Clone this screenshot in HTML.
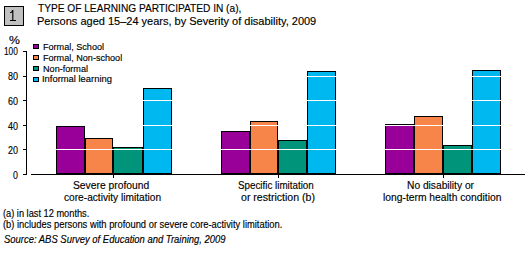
<!DOCTYPE html>
<html><head><meta charset="utf-8"><title>chart</title>
<style>
html,body{margin:0;padding:0;background:#fff;}
body{width:529px;height:253px;position:relative;overflow:hidden;font-family:"Liberation Sans",sans-serif;color:#000;}
.t{position:absolute;white-space:nowrap;line-height:1;transform-origin:0 0;-webkit-text-stroke:0.15px #000;}
.b{position:absolute;box-sizing:border-box;border:1px solid #000;}
.l{position:absolute;background:#000;}
.g{position:absolute;background:#fff;height:1px;left:31px;width:494px;}
.p{background:#990099;} .o{background:#f7854a;} .e{background:#00957a;} .c{background:#00b8f0;}
.sq{position:absolute;box-sizing:border-box;border:1px solid #000;width:6px;height:5px;left:33px;}
</style></head><body>
<div style="position:absolute;left:4px;top:6px;width:20px;height:20px;box-sizing:border-box;border:1px solid #000;background:#c0c0c0;"></div>
<svg style="position:absolute;left:0;top:0;" width="30" height="30"><path d="M10 12.5 L11.5 12.3 L12.8 10.4 M12.8 10 V20.5 M10 20.5 H16" stroke="#000" stroke-width="1.15" fill="none"/></svg>
<div class="b p" style="left:56px;top:126px;width:29px;height:48px;"></div>
<div class="b o" style="left:85px;top:138px;width:28px;height:36px;"></div>
<div class="b e" style="left:113px;top:147px;width:30px;height:27px;"></div>
<div class="b c" style="left:143px;top:88px;width:29px;height:86px;"></div>
<div class="b p" style="left:221px;top:131px;width:29px;height:43px;"></div>
<div class="b o" style="left:250px;top:121px;width:28px;height:53px;"></div>
<div class="b e" style="left:278px;top:140px;width:29px;height:34px;"></div>
<div class="b c" style="left:307px;top:71px;width:29px;height:103px;"></div>
<div class="b p" style="left:385px;top:124px;width:29px;height:50px;"></div>
<div class="b o" style="left:414px;top:116px;width:29px;height:58px;"></div>
<div class="b e" style="left:443px;top:145px;width:29px;height:29px;"></div>
<div class="b c" style="left:472px;top:70px;width:29px;height:104px;"></div>
<div class="g" style="top:149px;"></div>
<div class="g" style="top:125px;"></div>
<div class="g" style="top:100px;"></div>
<div class="g" style="top:76px;"></div>
<div class="sq p" style="top:44px;"></div>
<div class="sq o" style="top:55px;"></div>
<div class="sq e" style="top:66px;"></div>
<div class="sq c" style="top:77px;"></div>
<div class="l" style="left:26px;top:51px;width:1px;height:124px;"></div>
<div class="l" style="left:23px;top:51px;width:3px;height:1px;"></div>
<div class="l" style="left:23px;top:76px;width:3px;height:1px;"></div>
<div class="l" style="left:23px;top:100px;width:3px;height:1px;"></div>
<div class="l" style="left:23px;top:125px;width:3px;height:1px;"></div>
<div class="l" style="left:23px;top:149px;width:3px;height:1px;"></div>
<div class="l" style="left:23px;top:174px;width:3px;height:1px;"></div>
<div class="l" style="left:31px;top:174px;width:494px;height:1px;"></div>
<div class="l" style="left:113px;top:175px;width:1px;height:3px;"></div>
<div class="l" style="left:278px;top:175px;width:1px;height:3px;"></div>
<div class="l" style="left:443px;top:175px;width:1px;height:3px;"></div>
<div class="t" id="ti1" style="left:38.00px;top:3.00px;font-size:11px;transform:scaleX(0.9224);">TYPE OF LEARNING PARTICIPATED IN (a),</div>
<div class="t" id="ti2" style="left:37.00px;top:16.00px;font-size:11px;transform:scaleX(1.0000);">Persons aged 15–24 years, by Severity of disability, 2009</div>
<div class="t" id="pct" style="left:9.00px;top:35.00px;font-size:11px;transform:scaleX(1.1111);">%</div>
<div class="t" id="y100" style="left:4.17px;top:46.00px;font-size:11px;transform:scaleX(0.7545);">100</div>
<div class="t" id="y80" style="left:8.00px;top:71.00px;font-size:11px;transform:scaleX(0.8182);">80</div>
<div class="t" id="y60" style="left:8.00px;top:96.00px;font-size:11px;transform:scaleX(0.8182);">60</div>
<div class="t" id="y40" style="left:8.00px;top:121.00px;font-size:11px;transform:scaleX(0.8182);">40</div>
<div class="t" id="y20" style="left:8.00px;top:145.00px;font-size:11px;transform:scaleX(0.8182);">20</div>
<div class="t" id="y0" style="left:13.00px;top:170.00px;font-size:11px;transform:scaleX(0.8000);">0</div>
<div class="t" id="lg1" style="left:43.08px;top:42.00px;font-size:9.5px;transform:scaleX(0.9549);">Formal, School</div>
<div class="t" id="lg2" style="left:43.09px;top:53.00px;font-size:9.5px;transform:scaleX(0.9550);">Formal, Non-school</div>
<div class="t" id="lg3" style="left:43.07px;top:64.00px;font-size:9.5px;transform:scaleX(0.9579);">Non-formal</div>
<div class="t" id="lg4" style="left:42.01px;top:74.00px;font-size:9.5px;transform:scaleX(0.9880);">Informal learning</div>
<div class="t" id="c1a" style="left:73.05px;top:180.00px;font-size:11px;transform:scaleX(0.9369);">Severe profound</div>
<div class="t" id="c1b" style="left:64.00px;top:192.00px;font-size:11px;transform:scaleX(0.9231);">core-activity limitation</div>
<div class="t" id="c2a" style="left:238.08px;top:180.00px;font-size:11px;transform:scaleX(0.8918);">Specific limitation</div>
<div class="t" id="c2b" style="left:241.00px;top:192.00px;font-size:11px;transform:scaleX(0.9605);">or restriction (b)</div>
<div class="t" id="c3a" style="left:407.07px;top:180.00px;font-size:11px;transform:scaleX(0.9286);">No disability or</div>
<div class="t" id="c3b" style="left:383.06px;top:192.00px;font-size:11px;transform:scaleX(0.9356);">long-term health condition</div>
<div class="t" id="f1" style="left:3.00px;top:209.00px;font-size:10px;transform:scaleX(0.9239);">(a) in last 12 months.</div>
<div class="t" id="f2" style="left:3.00px;top:220.00px;font-size:10px;transform:scaleX(0.9360);">(b) includes persons with profound or severe core-activity limitation.</div>
<div class="t" id="f3" style="left:4.00px;top:235.00px;font-size:10px;transform:scaleX(0.9444);font-style:italic;">Source: ABS Survey of Education and Training, 2009</div>
</body></html>
